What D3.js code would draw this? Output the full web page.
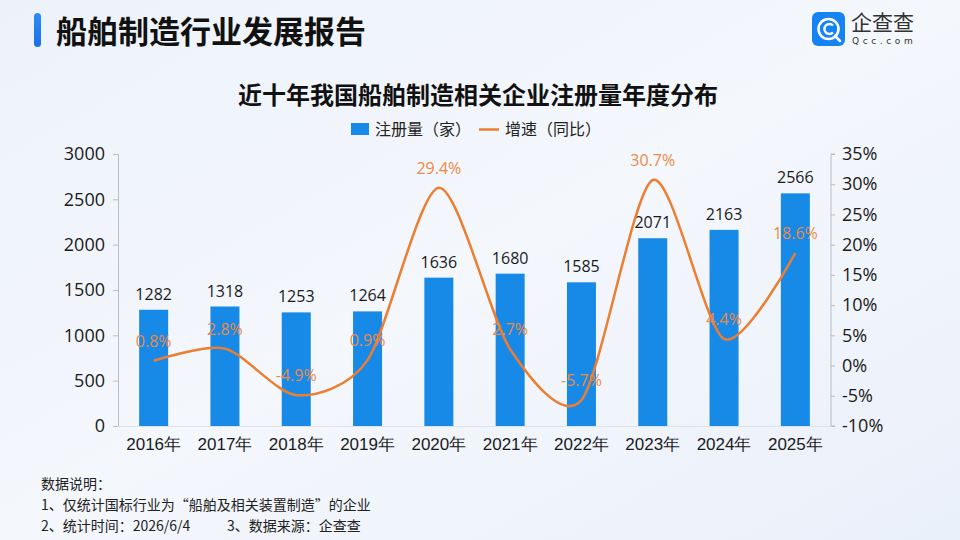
<!DOCTYPE html>
<html>
<head>
<meta charset="utf-8">
<script src="https://cdn.jsdelivr.net/npm/d3@7"></script>
<style>
  body { margin: 0; }
  svg { display: block; font-family: 'Noto Sans CJK SC', 'Noto Sans', sans-serif; }
</style>
</head>
<body>
<div id="chart"></div>
<script>
const years = ['2016年', '2017年', '2018年', '2019年', '2020年', '2021年', '2022年', '2023年', '2024年', '2025年']
const counts = [1282, 1318, 1253, 1264, 1636, 1680, 1585, 2071, 2163, 2566]
const growth = [0.8, 2.8, -4.9, 0.9, 29.4, 2.7, -5.7, 30.7, 4.4, 18.6]
const leftTicks = [0, 500, 1000, 1500, 2000, 2500, 3000]
const rightTicks = [-10, -5, 0, 5, 10, 15, 20, 25, 30, 35]

const W = 960, H = 540
const margin = { top: 154, right: 129, bottom: 114, left: 118 }
const width = W - margin.left - margin.right
const height = H - margin.top - margin.bottom

const svg = d3.select('#chart').append('svg')
  .attr('width', W)
  .attr('height', H)

// background
const defs = svg.append('defs')
const bg = defs.append('linearGradient').attr('id', 'bg')
  .attr('x1', 0).attr('y1', 0).attr('x2', 1).attr('y2', 1)
bg.append('stop').attr('offset', 0).attr('stop-color', '#edf2fa')
bg.append('stop').attr('offset', 0.5).attr('stop-color', '#f4f7fc')
bg.append('stop').attr('offset', 1).attr('stop-color', '#eaf0fa')
svg.append('rect').attr('width', W).attr('height', H).attr('fill', 'url(#bg)')

const accent = defs.append('linearGradient').attr('id', 'accent')
  .attr('x1', 0).attr('y1', 0).attr('x2', 0).attr('y2', 1)
accent.append('stop').attr('offset', 0).attr('stop-color', '#2f8bf5')
accent.append('stop').attr('offset', 1).attr('stop-color', '#1a6fe6')

// header
svg.append('rect')
  .attr('x', 34).attr('y', 13).attr('width', 7).attr('height', 34).attr('rx', 3.5)
  .attr('fill', 'url(#accent)')
svg.append('text')
  .attr('x', 56).attr('y', 43)
  .attr('font-size', 31).attr('font-weight', 700).attr('fill', '#111')
  .text('船舶制造行业发展报告')

// logo
const logo = svg.append('g').attr('transform', 'translate(812,12)')
logo.append('rect').attr('width', 33).attr('height', 34).attr('rx', 6).attr('fill', '#1683f3')
logo.append('circle').attr('cx', 16.5).attr('cy', 17).attr('r', 10)
  .attr('fill', 'none').attr('stroke', '#fff').attr('stroke-width', 2.6)
logo.append('path').attr('d', 'M21,13.5 A5,5 0 1 0 21,20.5')
  .attr('fill', 'none').attr('stroke', '#fff').attr('stroke-width', 2.4)
logo.append('path').attr('d', 'M23,24 L28,29')
  .attr('stroke', '#fff').attr('stroke-width', 2.6).attr('stroke-linecap', 'round')
logo.append('text').attr('x', 39).attr('y', 18)
  .attr('font-size', 21).attr('fill', '#333').text('企查查')
logo.append('text').attr('x', 40).attr('y', 32)
  .attr('font-size', 9).attr('letter-spacing', 3.6).attr('fill', '#333')
  .attr('font-family', "'DejaVu Sans', sans-serif").text('Qcc.com')

// chart title and legend
svg.append('text')
  .attr('x', 478).attr('y', 104)
  .attr('text-anchor', 'middle')
  .attr('font-size', 24).attr('font-weight', 700).attr('fill', '#111')
  .text('近十年我国船舶制造相关企业注册量年度分布')

const legend = svg.append('g').attr('font-size', 16).attr('fill', '#222')
legend.append('rect').attr('x', 351).attr('y', 123).attr('width', 18).attr('height', 12).attr('fill', '#1789e6')
legend.append('text').attr('x', 375).attr('y', 135).attr('fill', '#222').text('注册量（家）')
legend.append('path').attr('d', 'M479,129.5H499').attr('stroke', '#ed7d31').attr('stroke-width', 2.5)
legend.append('text').attr('x', 505).attr('y', 135).attr('fill', '#222').text('增速（同比）')

const g = svg.append('g')
  .attr('transform', `translate(${margin.left},${margin.top})`)

// scales
const xs = d3.scaleBand().domain(years).range([0, width])
const yl = d3.scaleLinear().domain([0, 3000]).range([height, 0])
const yr = d3.scaleLinear().domain([-10, 35]).range([height, 0])

// axes
const leftAxis = g.append('g')
  .call(d3.axisLeft(yl).tickValues(leftTicks).tickSize(5).tickPadding(8).tickFormat(d3.format('d')))
const rightAxis = g.append('g')
  .attr('transform', `translate(${width},0)`)
  .call(d3.axisRight(yr).tickValues(rightTicks).tickSize(4).tickPadding(7).tickFormat((d) => d + '%'))
const xAxis = g.append('g')
  .attr('transform', `translate(0,${height})`)
  .call(d3.axisBottom(xs).tickSize(0).tickPadding(12))

for (const ax of [leftAxis, rightAxis]) {
  ax.selectAll('.domain').attr('stroke', '#b8bcc4')
  ax.selectAll('.tick line').attr('stroke', '#b8bcc4')
  ax.selectAll('.tick text').attr('font-size', 18).attr('fill', '#1a1a1a')
    .attr('font-family', "'Open Sans', 'Noto Sans', sans-serif")
}
rightAxis.selectAll('.domain').attr('d', `M4,0H0V${height}H4`)
xAxis.select('.domain').attr('stroke', '#dde3ec')
xAxis.selectAll('.tick text').attr('font-size', 17).attr('fill', '#1a1a1a')

// bars
const barW = 29
g.selectAll('.bar')
  .data(counts)
  .enter()
  .append('rect')
  .attr('class', 'bar')
  .attr('x', (d, i) => xs(years[i]) + xs.bandwidth() / 2 - barW / 2)
  .attr('width', barW)
  .attr('y', (d) => yl(d))
  .attr('height', (d) => yl(0) - yl(d))
  .attr('fill', '#1789e6')

g.selectAll('.bar-label')
  .data(counts)
  .enter()
  .append('text')
  .attr('x', (d, i) => xs(years[i]) + xs.bandwidth() / 2)
  .attr('y', (d) => yl(d) - 10)
  .attr('text-anchor', 'middle')
  .attr('font-size', 16).attr('fill', '#1a1a1a')
  .attr('font-family', "'Open Sans', 'Noto Sans', sans-serif")
  .text((d) => d)

// growth line
const line = d3.line()
  .x((d, i) => xs(years[i]) + xs.bandwidth() / 2)
  .y((d) => yr(d))
  .curve(d3.curveCardinal.tension(0.2))
g.append('path')
  .datum(growth)
  .attr('d', line)
  .attr('fill', 'none')
  .attr('stroke', '#ed7d31')
  .attr('stroke-width', 2.5)

g.selectAll('.pct-label')
  .data(growth)
  .enter()
  .append('text')
  .attr('x', (d, i) => xs(years[i]) + xs.bandwidth() / 2)
  .attr('y', (d) => yr(d) - 14)
  .attr('text-anchor', 'middle')
  .attr('font-size', 16).attr('fill', '#ec8a45')
  .attr('font-family', "'Open Sans', 'Noto Sans', sans-serif")
  .text((d) => d.toFixed(1) + '%')

// notes
const notes = svg.append('g').attr('font-size', 14).attr('fill', '#222')
notes.append('text').attr('x', 41).attr('y', 489).text('数据说明：')
notes.append('text').attr('x', 41).attr('y', 510).text('1、仅统计国标行业为“船舶及相关装置制造”的企业')
notes.append('text').attr('x', 41).attr('y', 531).text('2、统计时间：2026/6/4')
notes.append('text').attr('x', 227).attr('y', 531).text('3、数据来源：企查查')
</script>
</body>
</html>
